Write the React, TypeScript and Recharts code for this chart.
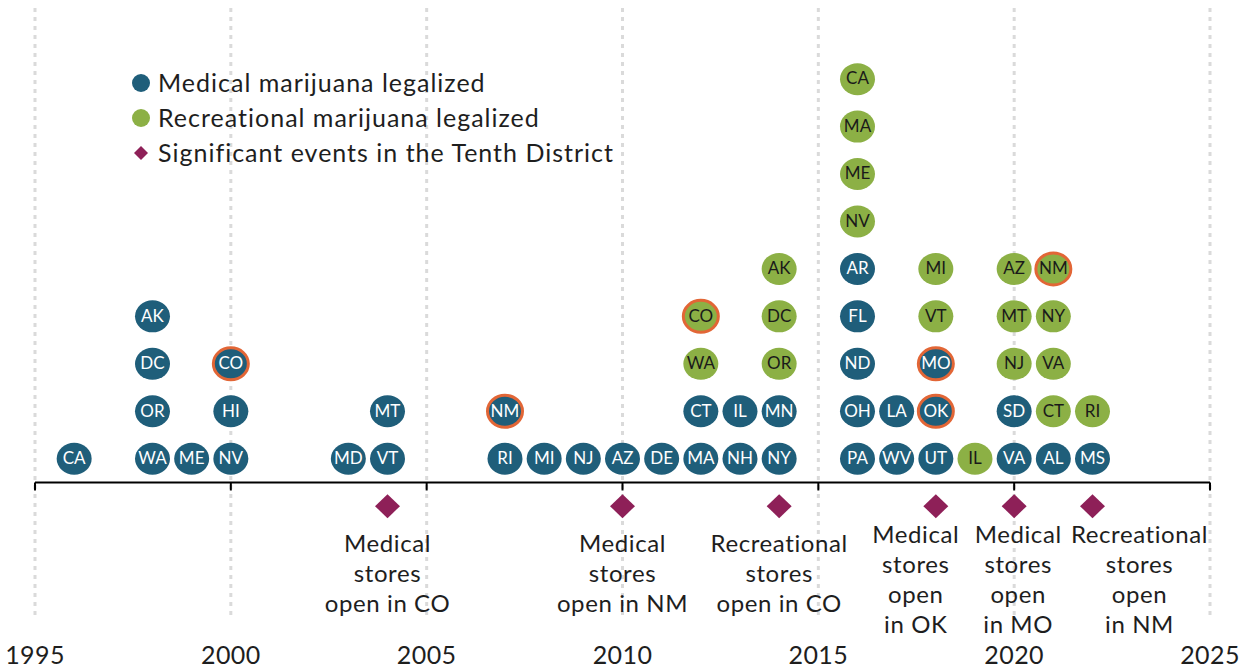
import React from 'react';
import { ScatterChart, Scatter, XAxis, YAxis, CartesianGrid, ReferenceLine } from 'recharts';

// year each state legalized, stacked by level within a year; tenth = Tenth District state (ringed)
const medicalStates = [
  { year: 1996, level: 1, state: 'CA' },
  { year: 1998, level: 1, state: 'WA' },
  { year: 1998, level: 2, state: 'OR' },
  { year: 1998, level: 3, state: 'DC' },
  { year: 1998, level: 4, state: 'AK' },
  { year: 1999, level: 1, state: 'ME' },
  { year: 2000, level: 1, state: 'NV' },
  { year: 2000, level: 2, state: 'HI' },
  { year: 2000, level: 3, state: 'CO', tenth: true },
  { year: 2003, level: 1, state: 'MD' },
  { year: 2004, level: 1, state: 'VT' },
  { year: 2004, level: 2, state: 'MT' },
  { year: 2007, level: 1, state: 'RI' },
  { year: 2007, level: 2, state: 'NM', tenth: true },
  { year: 2008, level: 1, state: 'MI' },
  { year: 2009, level: 1, state: 'NJ' },
  { year: 2010, level: 1, state: 'AZ' },
  { year: 2011, level: 1, state: 'DE' },
  { year: 2012, level: 1, state: 'MA' },
  { year: 2012, level: 2, state: 'CT' },
  { year: 2013, level: 1, state: 'NH' },
  { year: 2013, level: 2, state: 'IL' },
  { year: 2014, level: 1, state: 'NY' },
  { year: 2014, level: 2, state: 'MN' },
  { year: 2016, level: 1, state: 'PA' },
  { year: 2016, level: 2, state: 'OH' },
  { year: 2016, level: 3, state: 'ND' },
  { year: 2016, level: 4, state: 'FL' },
  { year: 2016, level: 5, state: 'AR' },
  { year: 2017, level: 1, state: 'WV' },
  { year: 2017, level: 2, state: 'LA' },
  { year: 2018, level: 1, state: 'UT' },
  { year: 2018, level: 2, state: 'OK', tenth: true },
  { year: 2018, level: 3, state: 'MO', tenth: true },
  { year: 2020, level: 1, state: 'VA' },
  { year: 2020, level: 2, state: 'SD' },
  { year: 2021, level: 1, state: 'AL' },
  { year: 2022, level: 1, state: 'MS' },
];

const recreationalStates = [
  { year: 2012, level: 3, state: 'WA' },
  { year: 2012, level: 4, state: 'CO', tenth: true },
  { year: 2014, level: 3, state: 'OR' },
  { year: 2014, level: 4, state: 'DC' },
  { year: 2014, level: 5, state: 'AK' },
  { year: 2016, level: 6, state: 'NV' },
  { year: 2016, level: 7, state: 'ME' },
  { year: 2016, level: 8, state: 'MA' },
  { year: 2016, level: 9, state: 'CA' },
  { year: 2018, level: 4, state: 'VT' },
  { year: 2018, level: 5, state: 'MI' },
  { year: 2019, level: 1, state: 'IL' },
  { year: 2020, level: 3, state: 'NJ' },
  { year: 2020, level: 4, state: 'MT' },
  { year: 2020, level: 5, state: 'AZ' },
  { year: 2021, level: 2, state: 'CT' },
  { year: 2021, level: 3, state: 'VA' },
  { year: 2021, level: 4, state: 'NY' },
  { year: 2021, level: 5, state: 'NM', tenth: true },
  { year: 2022, level: 2, state: 'RI' },
];

const tenthEvents = [
  { year: 2004, level: 0, text: ['Medical', 'stores', 'open in CO'] },
  { year: 2010, level: 0, text: ['Medical', 'stores', 'open in NM'] },
  { year: 2014, level: 0, text: ['Recreational', 'stores', 'open in CO'] },
  { year: 2018, level: 0, text: ['Medical', 'stores', 'open', 'in OK'] },
  { year: 2020, level: 0, text: ['Medical', 'stores', 'open', 'in MO'] },
  { year: 2022, level: 0, text: ['Recreational', 'stores', 'open', 'in NM'] },
];

const yearTicks = [1995, 2000, 2005, 2010, 2015, 2020, 2025];

// label nudges (px) so the event captions don't collide
const labelShift: Record<number, number> = { 2018: -20, 2020: 4, 2022: 47 };

const BLUE = '#1f5e7a';
const GREEN = '#8cb045';
const RING = '#e26636';
const MAROON = '#8e2058';
const FONT = 'Lato, sans-serif';

const StateDot = (fill: string, textFill: string) => (props: any) => {
  const { cx, cy, payload } = props;
  return (
    <g>
      <ellipse cx={cx} cy={cy} rx={17.5} ry={16} fill={fill}
        stroke={payload.tenth ? RING : 'none'} strokeWidth={payload.tenth ? 3 : 0} />
      <text x={cx} y={cy + 1} textAnchor="middle" dominantBaseline="middle"
        fontSize={17} fontFamily={FONT} fill={textFill}>{payload.state}</text>
    </g>
  );
};

const EventMark = (props: any) => {
  const { cx, cy, payload } = props;
  const lines: string[] = payload.text;
  const tx = cx + (labelShift[payload.year] || 0);
  const startY = cy + (lines.length > 3 ? 31 : 40);
  return (
    <g>
      <path d={`M${cx},${cy - 12} L${cx + 12.5},${cy} L${cx},${cy + 12} L${cx - 12.5},${cy} Z`} fill={MAROON} />
      <text textAnchor="middle" fontSize={24} letterSpacing={0.6} fontFamily={FONT} fill="#1e1e1e">
        {lines.map((l, i) => (
          <tspan key={i} x={tx} y={startY + i * 30} dominantBaseline="middle">{l}</tspan>
        ))}
      </text>
    </g>
  );
};

const YearTick = (props: any) => {
  const { x, y, payload } = props;
  return (
    <text x={x} y={y + 38} textAnchor="middle" dominantBaseline="middle"
      fontSize={25} letterSpacing={0.4} fontFamily={FONT} fill="#1e1e1e">{payload.value}</text>
  );
};

const legendItems = [
  { label: 'Medical marijuana legalized', color: BLUE, shape: 'circle' },
  { label: 'Recreational marijuana legalized', color: GREEN, shape: 'circle' },
  { label: 'Significant events in the Tenth District', color: MAROON, shape: 'diamond' },
];

const LegendBox = () => (
  <div style={{ position: 'absolute', left: 132, top: 65, fontFamily: FONT, fontSize: 25,
    letterSpacing: 1, color: '#1e1e1e', lineHeight: '35px' }}>
    {legendItems.map((it) => (
      <div key={it.label} style={{ display: 'flex', alignItems: 'center', height: 35 }}>
        <svg width={26} height={20}>
          {it.shape === 'circle'
            ? <circle cx={9} cy={10} r={9} fill={it.color} />
            : <path d="M9,3 L16,10 L9,17 L2,10 Z" fill={it.color} />}
        </svg>
        <span>{it.label}</span>
      </div>
    ))}
  </div>
);

export default function App() {
  return (
    <div style={{ position: 'absolute', left: 0, top: 0, width: 1249, height: 671, background: '#fff' }}>
      <ScatterChart width={1249} height={671} margin={{ top: 8, right: 39, bottom: 21, left: 35 }}>
        <CartesianGrid horizontal={false} stroke="#dadada" strokeWidth={3} strokeDasharray="4 5" />
        <XAxis type="number" dataKey="year" domain={[1995, 2025]} ticks={yearTicks}
          axisLine={false} tickLine={false} tickSize={0} tickMargin={0} height={30}
          tick={<YearTick />} interval={0} />
        <YAxis type="number" dataKey="level" domain={[-2.4, 10.5]} hide />
        <ReferenceLine y={0.5} stroke="#000" strokeWidth={2} />
        {yearTicks.map((t) => (
          <ReferenceLine key={t} segment={[{ x: t, y: 0.5 }, { x: t, y: 0.33 }]} stroke="#000" strokeWidth={2} />
        ))}
        <Scatter name="Medical marijuana legalized" data={medicalStates} shape={StateDot(BLUE, '#ffffff')} isAnimationActive={false} />
        <Scatter name="Recreational marijuana legalized" data={recreationalStates} shape={StateDot(GREEN, '#1a1a1a')} isAnimationActive={false} />
        <Scatter name="Significant events in the Tenth District" data={tenthEvents} shape={EventMark} isAnimationActive={false} />
      </ScatterChart>
      <LegendBox />
    </div>
  );
}
